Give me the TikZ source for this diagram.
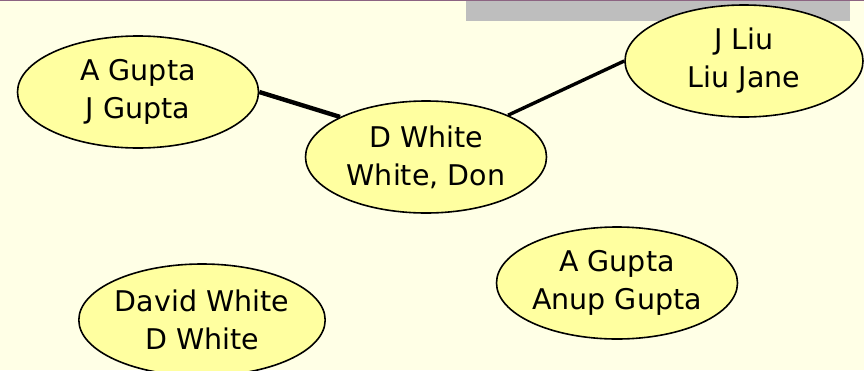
\documentclass[tikz,border=0pt]{standalone}
\usepackage{fontspec}
\setmainfont{DejaVu Sans}
\usepackage{tikz}
\usetikzlibrary{positioning,shapes.geometric}
\definecolor{bgyellow}{RGB}{255,255,230}
\definecolor{nodeyellow}{RGB}{255,255,160}
\definecolor{barpurple}{RGB}{140,100,130}
\definecolor{bargrey}{RGB}{190,190,190}
\tikzstyle{person}=[ellipse,draw=black,line width=1.6pt,fill=nodeyellow,minimum width=241pt,minimum height=112pt,inner sep=0pt,align=center,font=\fontsize{28.5}{38}\selectfont]
\tikzstyle{link}=[line width=4.4pt]

\begin{document}
\begin{tikzpicture}[x=1pt,y=-1pt]
  \useasboundingbox (0,0) rectangle (864,370);
  \clip (0,0) rectangle (864,370);
  \fill [bgyellow] (0,0) rectangle (864,370);
  \fill [bargrey] (466,0) rectangle (850,21);
  \draw [barpurple, line width=1.5pt] (0,0.5) -- (864,0.5);

  \node [person] at (138, 92) (v1) {A Gupta\\J Gupta};
  \node [person] at (426, 157) (v2) {D White\\White, Don};
  \node [person, minimum width=238pt] at (744, 61) (v3) {J Liu\\Liu Jane};
  \node [person] at (202, 320) (v4) {David White\\D White};
  \node [person] at (617, 283) (v5) {A Gupta\\Anup Gupta};

  \draw [link] (v1.east) -- (v2.155);
  \draw [link, line width=3.4pt] (v2.27) -- (v3.west);
\end{tikzpicture}
\end{document}
